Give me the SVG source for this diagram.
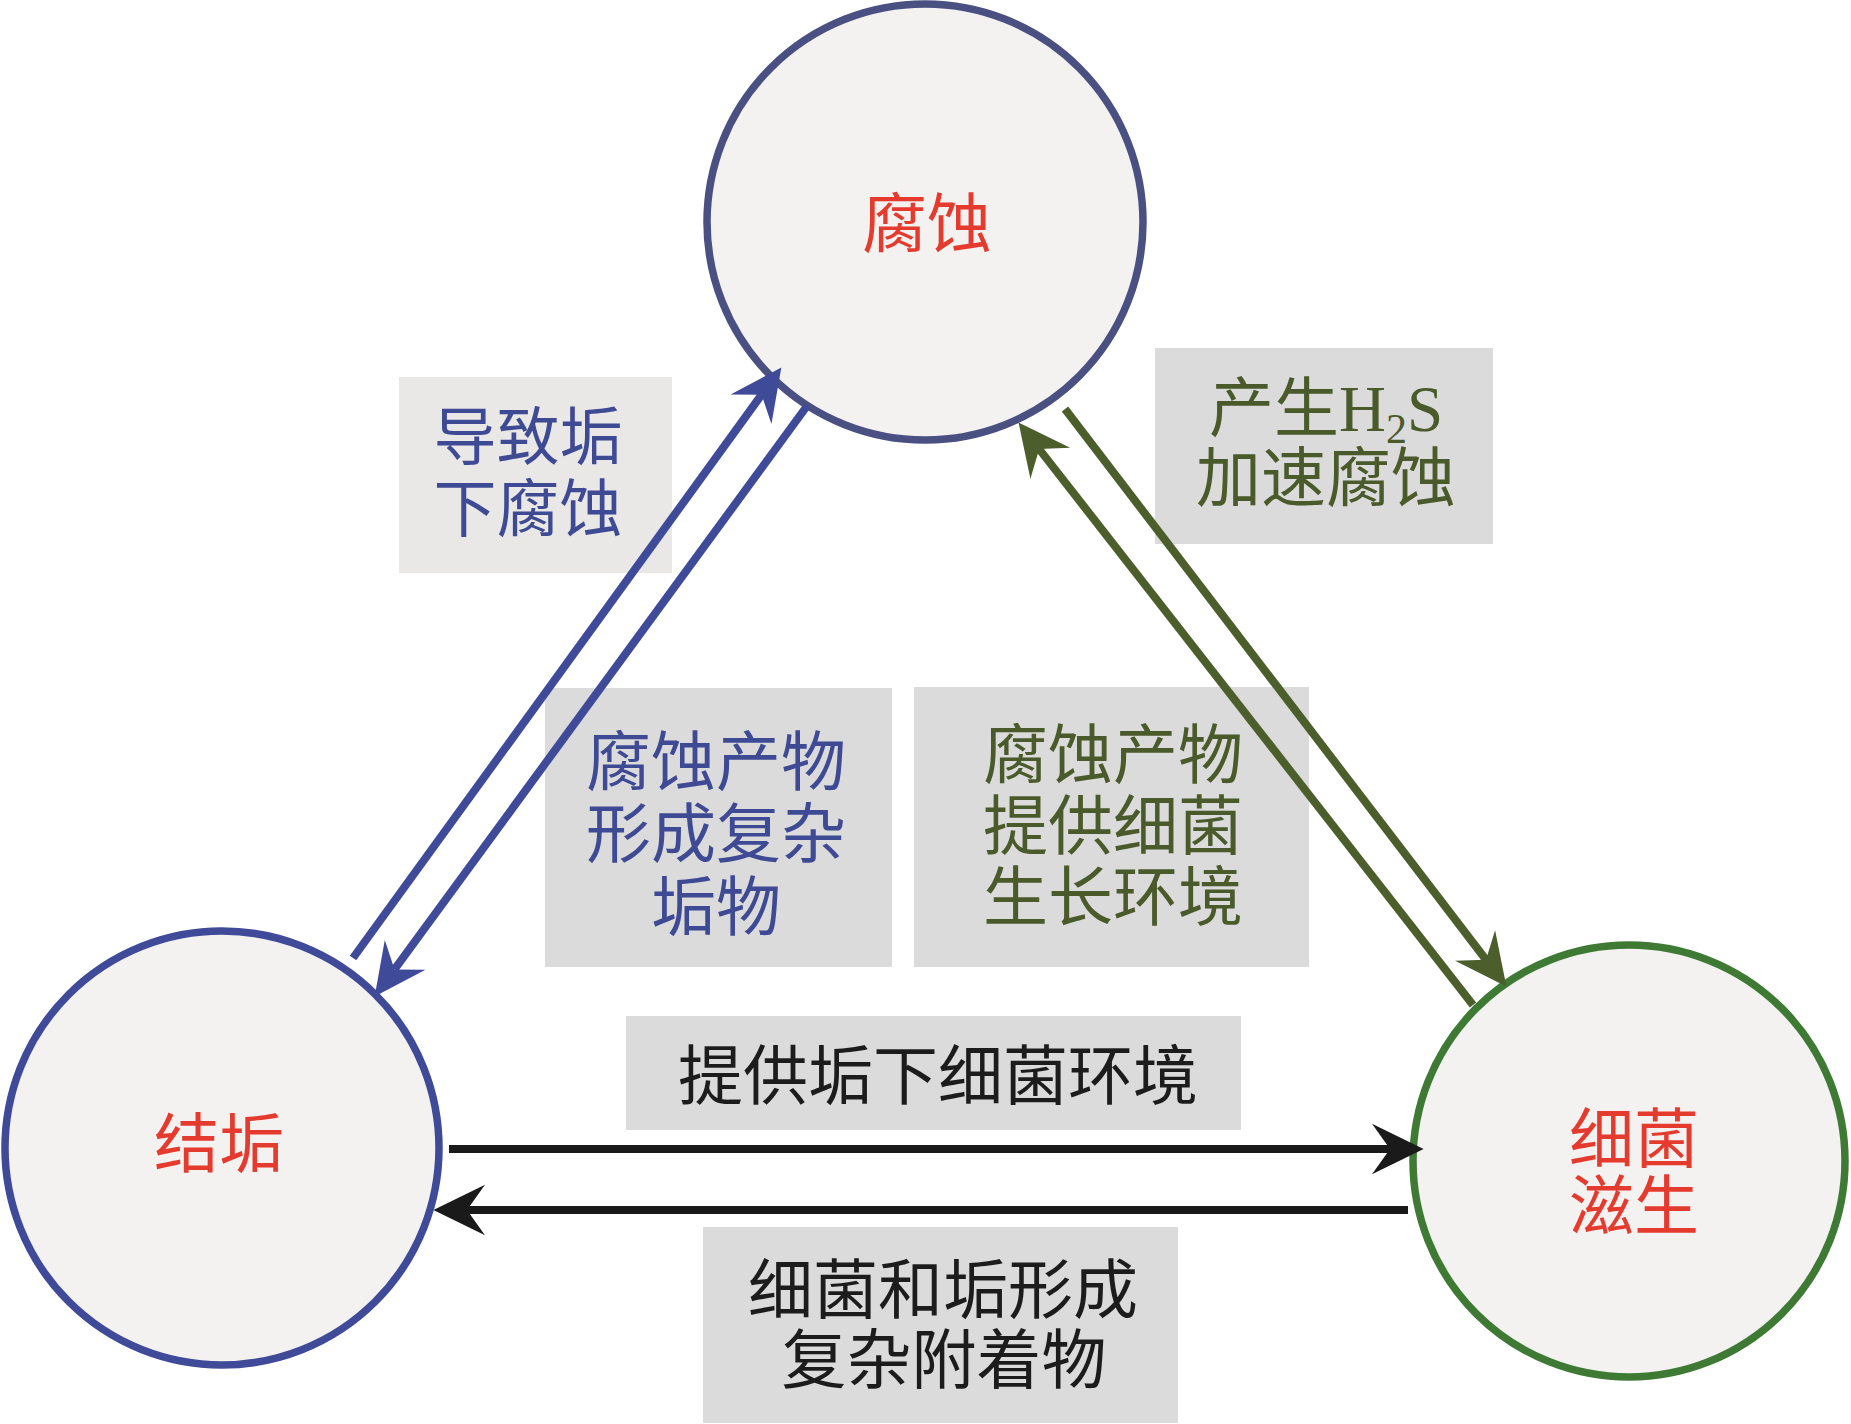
<svg xmlns="http://www.w3.org/2000/svg" width="1851" height="1424" viewBox="0 0 1851 1424">
<style>
.bg{fill:#ffffff}
.node{fill:#f3f2f1;stroke-width:7.5}
.box{fill:#dcdbdb}
.boxl{fill:#e9e8e7}
.t{font-family:"Noto Sans CJK SC","Liberation Serif",serif;font-size:65px;text-anchor:middle}
.s63{font-size:63px}
.lat{font-family:"Liberation Serif",serif}
.sub{font-family:"Liberation Serif",serif;font-size:42px}
.red{fill:#e53b2e}
.blue{fill:#3f4a94}
.green{fill:#4a5a2b}
.black{fill:#1c1c1c}
.lb{stroke:#3f4b99;stroke-width:8;fill:none}
.lg{stroke:#4b5e2b;stroke-width:8;fill:none}
.lk{stroke:#1a1a1a;stroke-width:8;fill:none}
</style>
<defs>
<marker id="ab" markerUnits="userSpaceOnUse" orient="auto" refX="0" refY="0" markerWidth="60" markerHeight="60" viewBox="-20 -25 50 50" overflow="visible">
<path d="M28,0 L-15,-21 L0,0 L-15,21 Z" fill="#3f4b99"/>
</marker>
<marker id="ag" markerUnits="userSpaceOnUse" orient="auto" refX="0" refY="0" markerWidth="60" markerHeight="60" viewBox="-20 -25 50 50" overflow="visible">
<path d="M28,0 L-15,-21 L0,0 L-15,21 Z" fill="#4b5e2b"/>
</marker>
<marker id="ak" markerUnits="userSpaceOnUse" orient="auto" refX="0" refY="0" markerWidth="60" markerHeight="60" viewBox="-20 -25 50 50" overflow="visible">
<path d="M28,0 L-15,-21 L0,0 L-15,21 Z" fill="#1a1a1a"/>
</marker>
</defs>
<rect class="bg" x="0" y="0" width="1851" height="1424"/>

<g id="label-boxes">
<rect class="boxl" x="399" y="377" width="273" height="196"/>
<rect class="box" x="1155" y="348" width="338" height="196"/>
<rect class="box" x="545" y="688" width="347" height="279"/>
<rect class="box" x="914" y="687" width="395" height="280"/>
<rect class="box" x="626" y="1016" width="615" height="114"/>
<rect class="box" x="703" y="1227" width="475" height="196"/>
</g>

<g id="node-corrosion">
<circle class="node" cx="925" cy="222" r="218" stroke="#4a5082"/>
<text class="t red" x="927" y="247">腐蚀</text>
</g>
<g id="node-scaling">
<circle class="node" cx="222" cy="1148" r="217" stroke="#3f4a98"/>
<text class="t red" x="219" y="1167">结垢</text>
</g>
<g id="node-bacteria">
<circle class="node" cx="1629" cy="1161" r="216" stroke="#3f7a35"/>
<text class="t red" x="1634" y="1162">细菌</text>
<text class="t red" x="1634" y="1229">滋生</text>
</g>

<g id="connectors">
<path class="lb" d="M353,958 L761.6,394.7" marker-end="url(#ab)"/>
<path class="lb" d="M807,406 L394.5,969.4" marker-end="url(#ab)"/>
<path class="lg" d="M1065,409 L1486,959.8" marker-end="url(#ag)"/>
<path class="lg" d="M1473,1005 L1039.2,449.1" marker-end="url(#ag)"/>
<path class="lk" d="M449,1149 L1390,1149" marker-end="url(#ak)"/>
<path class="lk" d="M1408,1210 L467,1210" marker-end="url(#ak)"/>
</g>

<g id="labels">
<text class="t s63 blue" x="528" y="459">导致垢</text>
<text class="t s63 blue" x="528" y="531">下腐蚀</text>
<text class="t green" x="1326" y="431">产生<tspan class="lat">H</tspan><tspan class="sub" dy="12">2</tspan><tspan class="lat" dy="-12">S</tspan></text>
<text class="t green" x="1326" y="501">加速腐蚀</text>
<text class="t blue" x="716" y="785">腐蚀产物</text>
<text class="t blue" x="716" y="857">形成复杂</text>
<text class="t blue" x="716" y="930">垢物</text>
<text class="t green" x="1113" y="778">腐蚀产物</text>
<text class="t green" x="1113" y="849">提供细菌</text>
<text class="t green" x="1113" y="920">生长环境</text>
<text class="t black" x="938" y="1099">提供垢下细菌环境</text>
<text class="t black" x="943" y="1313">细菌和垢形成</text>
<text class="t black" x="944" y="1383">复杂附着物</text>
</g>
</svg>
